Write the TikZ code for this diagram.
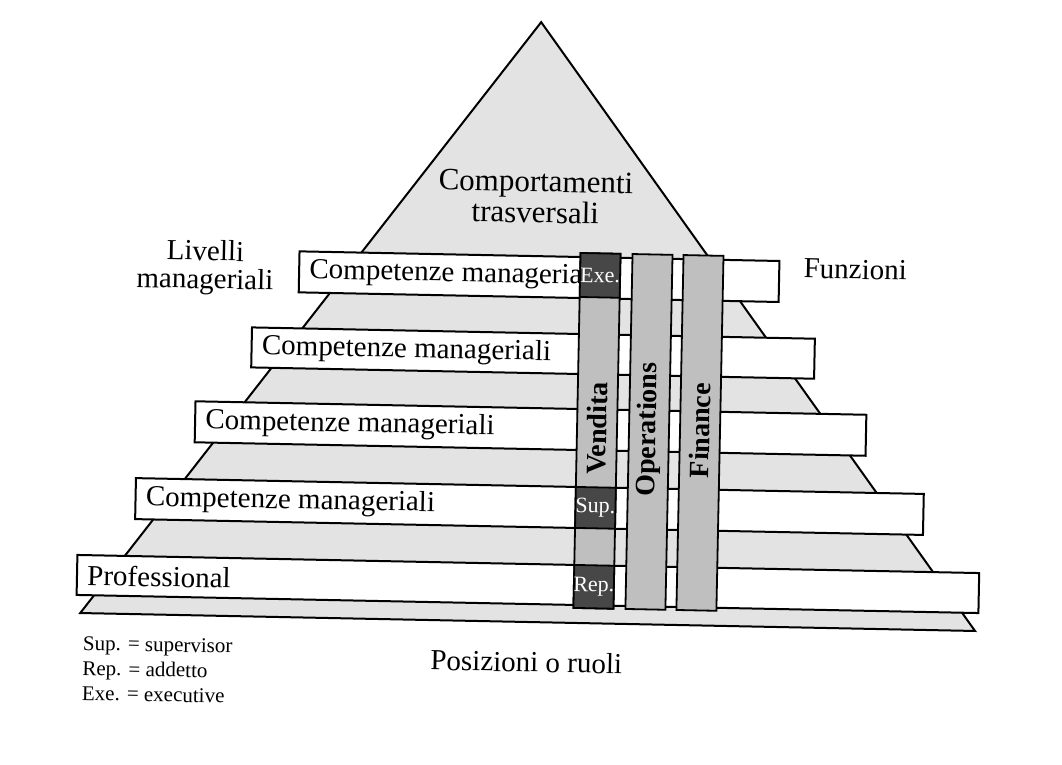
\documentclass[tikz,border=0pt]{standalone}
\usepackage{fontspec}
\setmainfont{Liberation Serif}
\tikzset{barra/.style = {draw, fill=white, line width=1pt},
  colonna/.style = {draw, fill=black!25, line width=0.9pt},
  cella/.style = {draw, fill=black!72, line width=0.9pt},
  testo/.style = {font=\fontsize{14.5}{14}\selectfont, inner sep=0pt},
  funz/.style = {font=\fontsize{14}{14}\selectfont\bfseries, inner sep=0pt, rotate=90},
  sigla/.style = {font=\fontsize{11}{11}\selectfont, text=white, inner sep=0pt},
  legenda/.style = {font=\fontsize{10.5}{11}\selectfont, inner sep=0pt, anchor=base west}}

\begin{document}
\begin{tikzpicture}[x=0.5pt, y=-0.5pt]
  \useasboundingbox (0,0) rectangle (1062,765);
  \begin{scope}[rotate around={-1.15:(530,330)}, transform shape]
    % piramide
    \draw[line width=1pt, fill=black!11] (535,22) -- (981,622) -- (86,622) -- cycle;
    \node[testo, font=\fontsize{15.5}{15.5}\selectfont, align=center] (comp) at (533,197)
      {Comportamenti\\trasversali};
    % livelli
    \foreach \n/\xa/\xb/\ya/\yb/\t in {1/298/778/256/297/Competenze manageria,
        2/252/815/333/373/Competenze manageriali,
        3/197/868/408/449/Competenze manageriali,
        4/139/927/486/527/Competenze manageriali,
        5/82/984/564/604/Professional} {
      \draw[barra] (\xa,\ya) rectangle (\xb,\yb);
      \node[testo, anchor=west] (liv\n) at (\xa+10,{(\ya+\yb)/2}) {\t};
    }
    % funzioni
    \foreach \xa in {579,631,682}
      \draw[colonna] (\xa,252) rectangle (\xa+40,607);
    \foreach \n/\ya/\yb/\t in {exe/252/296/Exe., sup/486/527/Sup., rep/564/607/Rep.} {
      \draw[cella] (579,\ya) rectangle (619,\yb);
      \node[sigla] (\n) at (599,{(\ya+\yb)/2}) {\t};
    }
    \node[funz] (vendita) at (599,427) {Vendita};
    \node[funz] (operations) at (651,427) {Operations};
    \node[funz] (finance) at (702,427) {Finance};
    \node[testo, align=center] (livelli) at (204,274) {Livelli\\manageriali};
    \node[testo] (funzioni) at (854,263) {Funzioni};
    \node[testo] (posizioni) at (533,662) {Posizioni o ruoli};
    \node[legenda] (leg1) at (89,659) {Sup. = supervisor};
    \node[legenda] (leg2) at (89,684) {Rep. = addetto};
    \node[legenda] (leg3) at (89,709) {Exe. = executive};
  \end{scope}
\end{tikzpicture}
\end{document}
